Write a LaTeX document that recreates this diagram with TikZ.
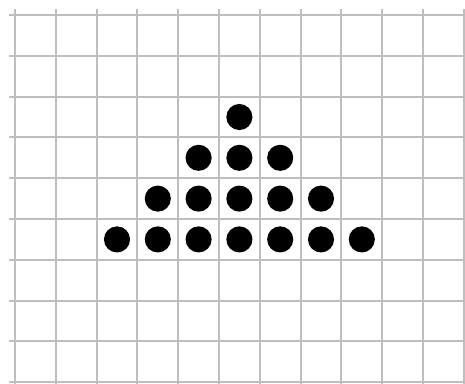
\documentclass[tikz,border=0pt]{standalone}
\begin{document}
\begin{tikzpicture}[
  gridline/.style={draw={rgb,255:red,190;green,190;blue,190}, line width=1.3pt},
  dot/.style={circle, fill=black, minimum size=0.64cm, inner sep=0pt, draw=none}
]
\useasboundingbox (-0.368,0.368) rectangle (11.03,-9.02);
\begin{scope}
\clip (-0.368,0.368) rectangle (11.03,-9.02);
\foreach \x in {0,...,11} \draw[gridline] (\x,0.147) -- (\x,-9.2);
\foreach \y in {0,...,9} \draw[gridline] (-0.147,-\y) -- (11.2,-\y);
\end{scope}
\node[dot] (r1c5) at (5.5,-2.5) {};
\foreach \c in {4,5,6} \node[dot] (r2c\c) at (\c+0.5,-3.5) {};
\foreach \c in {3,...,7} \node[dot] (r3c\c) at (\c+0.5,-4.5) {};
\foreach \c in {2,...,8} \node[dot] (r4c\c) at (\c+0.5,-5.5) {};
\end{tikzpicture}
\end{document}
